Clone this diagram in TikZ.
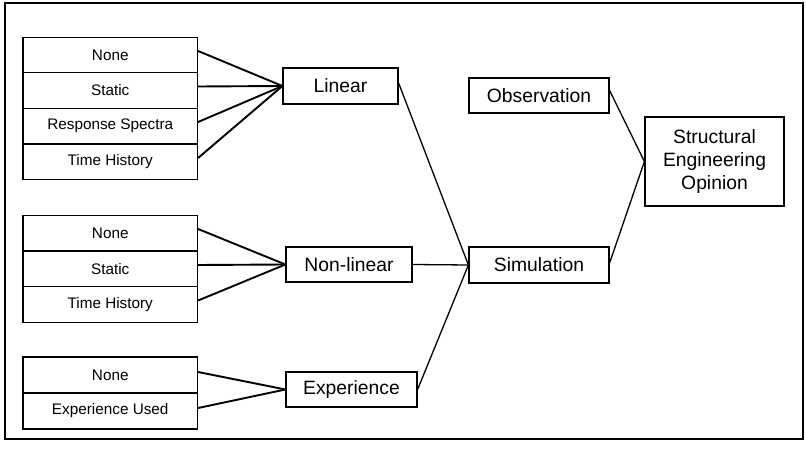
\documentclass[tikz,border=0pt]{standalone}
\usepackage{fontspec}
\setmainfont{Liberation Sans}
\begin{document}
\begin{tikzpicture}[x=1pt,y=-1pt,
  optbox/.style={draw,line width=1.2pt,inner sep=0pt,minimum width=174.5pt,minimum height=35.7pt,
    font=\fontsize{15.3}{18}\selectfont},
  mainbox/.style={draw,line width=1.2pt,inner sep=0pt,font=\fontsize{19.3}{23.4}\selectfont,align=center},
  link/.style={line width=1.3pt},
  feed/.style={line width=1.9pt}]
\useasboundingbox (0,0) rectangle (806,449);
\draw[line width=1.2pt] (5,3) rectangle (803,439);

% analysis options
\node[optbox] (l1) at (110.25,55)  {None};
\node[optbox] (l2) at (110.25,90.5) {Static};
\node[optbox] (l3) at (110.25,126) {Response Spectra};
\node[optbox] (l4) at (110.25,162) {Time History};

\node[optbox] (n1) at (110.25,233)  {None};
\node[optbox] (n2) at (110.25,269) {Static};
\node[optbox] (n3) at (110.25,304.5) {Time History};

\node[optbox,minimum height=36pt] (e1) at (110.25,375) {None};
\node[optbox,minimum height=36pt] (e2) at (110.25,411) {Experience Used};

% methods
\node[mainbox,minimum width=115pt,minimum height=36pt] (lin) at (340.5,86) {Linear};
\node[mainbox,minimum width=126pt,minimum height=35pt] (nl) at (349,264.5) {Non-linear};
\node[mainbox,minimum width=131pt,minimum height=35pt] (exp) at (351.5,389.5) {Experience};

\node[mainbox,minimum width=140pt,minimum height=35pt] (obs) at (539,95.5) {Observation};
\node[mainbox,minimum width=140pt,minimum height=36pt] (sim) at (539,265) {Simulation};
\node[mainbox,minimum width=139pt,minimum height=89pt] (seo) at (714.5,161.5) {Structural\\Engineering\\Opinion};

% connectors
\foreach \n in {l1,l2,l3,l4} \draw[feed] ([yshift=4pt]\n.east) -- (lin.west);
\foreach \n in {n1,n2,n3} \draw[feed] ([yshift=4pt]\n.east) -- (nl.west);
\foreach \n in {e1,e2} \draw[feed] ([yshift=3pt]\n.east) -- (exp.west);

\draw[link] ([yshift=3pt]lin.east) -- (sim.west);
\draw[link] (nl.east) -- (sim.west);
\draw[link] (exp.east) -- (sim.west);
\draw[link] ([yshift=5pt]obs.east) -- (seo.west);
\draw[link] ([yshift=2pt]sim.east) -- (seo.west);
\end{tikzpicture}
\end{document}
